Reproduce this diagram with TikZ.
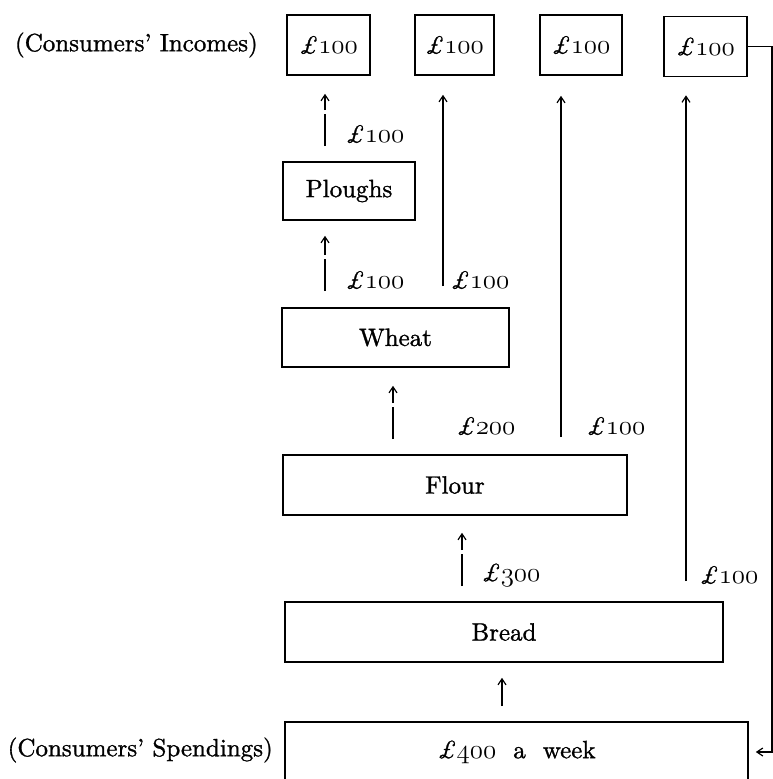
\RequirePackage{fix-cm}
\documentclass[tikz,border=0pt]{standalone}
\usepackage{fontspec}
\setmainfont{lmroman10-regular}[Extension=.otf,ItalicFont=lmroman10-italic,BoldFont=lmroman10-bold,FakeBold=1.2]
\usetikzlibrary{arrows.meta,calc}
\newcommand{\osn}[1]{{\fontsize{27}{30}\usefont{OML}{cmm}{m}{it}#1}}
\newcommand{\stg}{\textit{\pounds}}
\begin{document}
\begin{tikzpicture}[x=1pt,y=-1pt,
  every node/.style={font=\fontsize{25}{30}\selectfont},
  box/.style={draw,line width=1.6pt,inner sep=0pt,minimum height=60pt},
  lab/.style={inner sep=0pt},
  arr/.style={line width=1.2pt,-{Straight Barb[length=6pt,width=8pt,line width=1.2pt]}},
  flow/.style={line width=1.8pt,-{Straight Barb[length=6pt,width=8pt,line width=1.2pt]}},
  gap/.style={dash pattern=on 32pt off 4pt on 60pt}]
\useasboundingbox (0,0) rectangle (773,779);
% top income boxes
\node[box,minimum width=83pt] (inc1) at (328.5,45) {\stg\osn{100}};
\node[box,minimum width=79pt] (inc2) at (454.5,45) {\stg\osn{100}};
\node[box,minimum width=82pt] (inc3) at (581,45) {\stg\osn{100}};
\node[box,minimum width=83pt] (inc4) at (705.5,46.5) {\stg\osn{100}};
% production boxes
\node[box,minimum width=132pt,minimum height=58pt] (plough) at (349,191) {Ploughs};
\node[box,minimum width=227pt,minimum height=59pt] (wheat) at (395.5,337.5) {Wheat};
\node[box,minimum width=344pt] (flour) at (455,485) {Flour};
\node[box,minimum width=438pt] (bread) at (504,632) {Bread};
\node[box,minimum width=463pt] (spend) at (516.5,752) {\stg\osn{400}\hskip 17pt a\hskip 17pt week\hskip 18pt};
% side labels
\node[lab,anchor=east] (inclab) at (258,45) {(Consumers' Incomes)};
\node[lab,anchor=east] (spendlab) at (273,750) {(Consumers' Spendings)};
% amount labels
\node[lab] (l1) at (375,134) {\stg\osn{100}};
\node[lab] (l2) at (375,280) {\stg\osn{100}};
\node[lab] (l3) at (480,280) {\stg\osn{100}};
\node[lab] (l4) at (486,426) {\stg\osn{200}};
\node[lab] (l5) at (616,426) {\stg\osn{100}};
\node[lab] (l6) at (511,575) {\stg\osn{300}};
\node[lab] (l7) at (729,575) {\stg\osn{100}};
% arrows
\draw[arr,gap,shorten <=15pt,shorten >=18pt] ([xshift=-24pt]plough.north) -- ([xshift=-24pt]plough.north |- inc1.south);
\draw[arr,gap,shorten <=16pt,shorten >=15pt] ([xshift=-70.5pt]wheat.north) -- ([xshift=-70.5pt]wheat.north |- plough.south);
\draw[flow,shorten <=21pt,shorten >=19pt] ([xshift=47.5pt]wheat.north) -- ([xshift=47.5pt]wheat.north |- inc2.south);
\draw[arr,gap,shorten <=15pt,shorten >=18pt] ([xshift=-62pt]flour.north) -- ([xshift=-62pt]flour.north |- wheat.south);
\draw[flow,shorten <=17pt,shorten >=20pt] ([xshift=106pt]flour.north) -- ([xshift=106pt]flour.north |- inc3.south);
\draw[arr,gap,shorten <=15pt,shorten >=17pt] ([xshift=-42pt]bread.north) -- ([xshift=-42pt]bread.north |- flour.south);
\draw[flow,shorten <=20pt,shorten >=18pt] ([xshift=182pt]bread.north) -- ([xshift=182pt]bread.north |- inc4.south);
\draw[arr,line width=1.4pt,shorten <=15pt,shorten >=15pt] ([xshift=-14.5pt]spend.north) -- ([xshift=-14.5pt]spend.north |- bread.south);
% feedback line
\coordinate (fb) at (772,0);
\draw[arr,shorten >=7pt] (inc4.east) -- (inc4.east -| fb) |- (spend.east);
\end{tikzpicture}
\end{document}
